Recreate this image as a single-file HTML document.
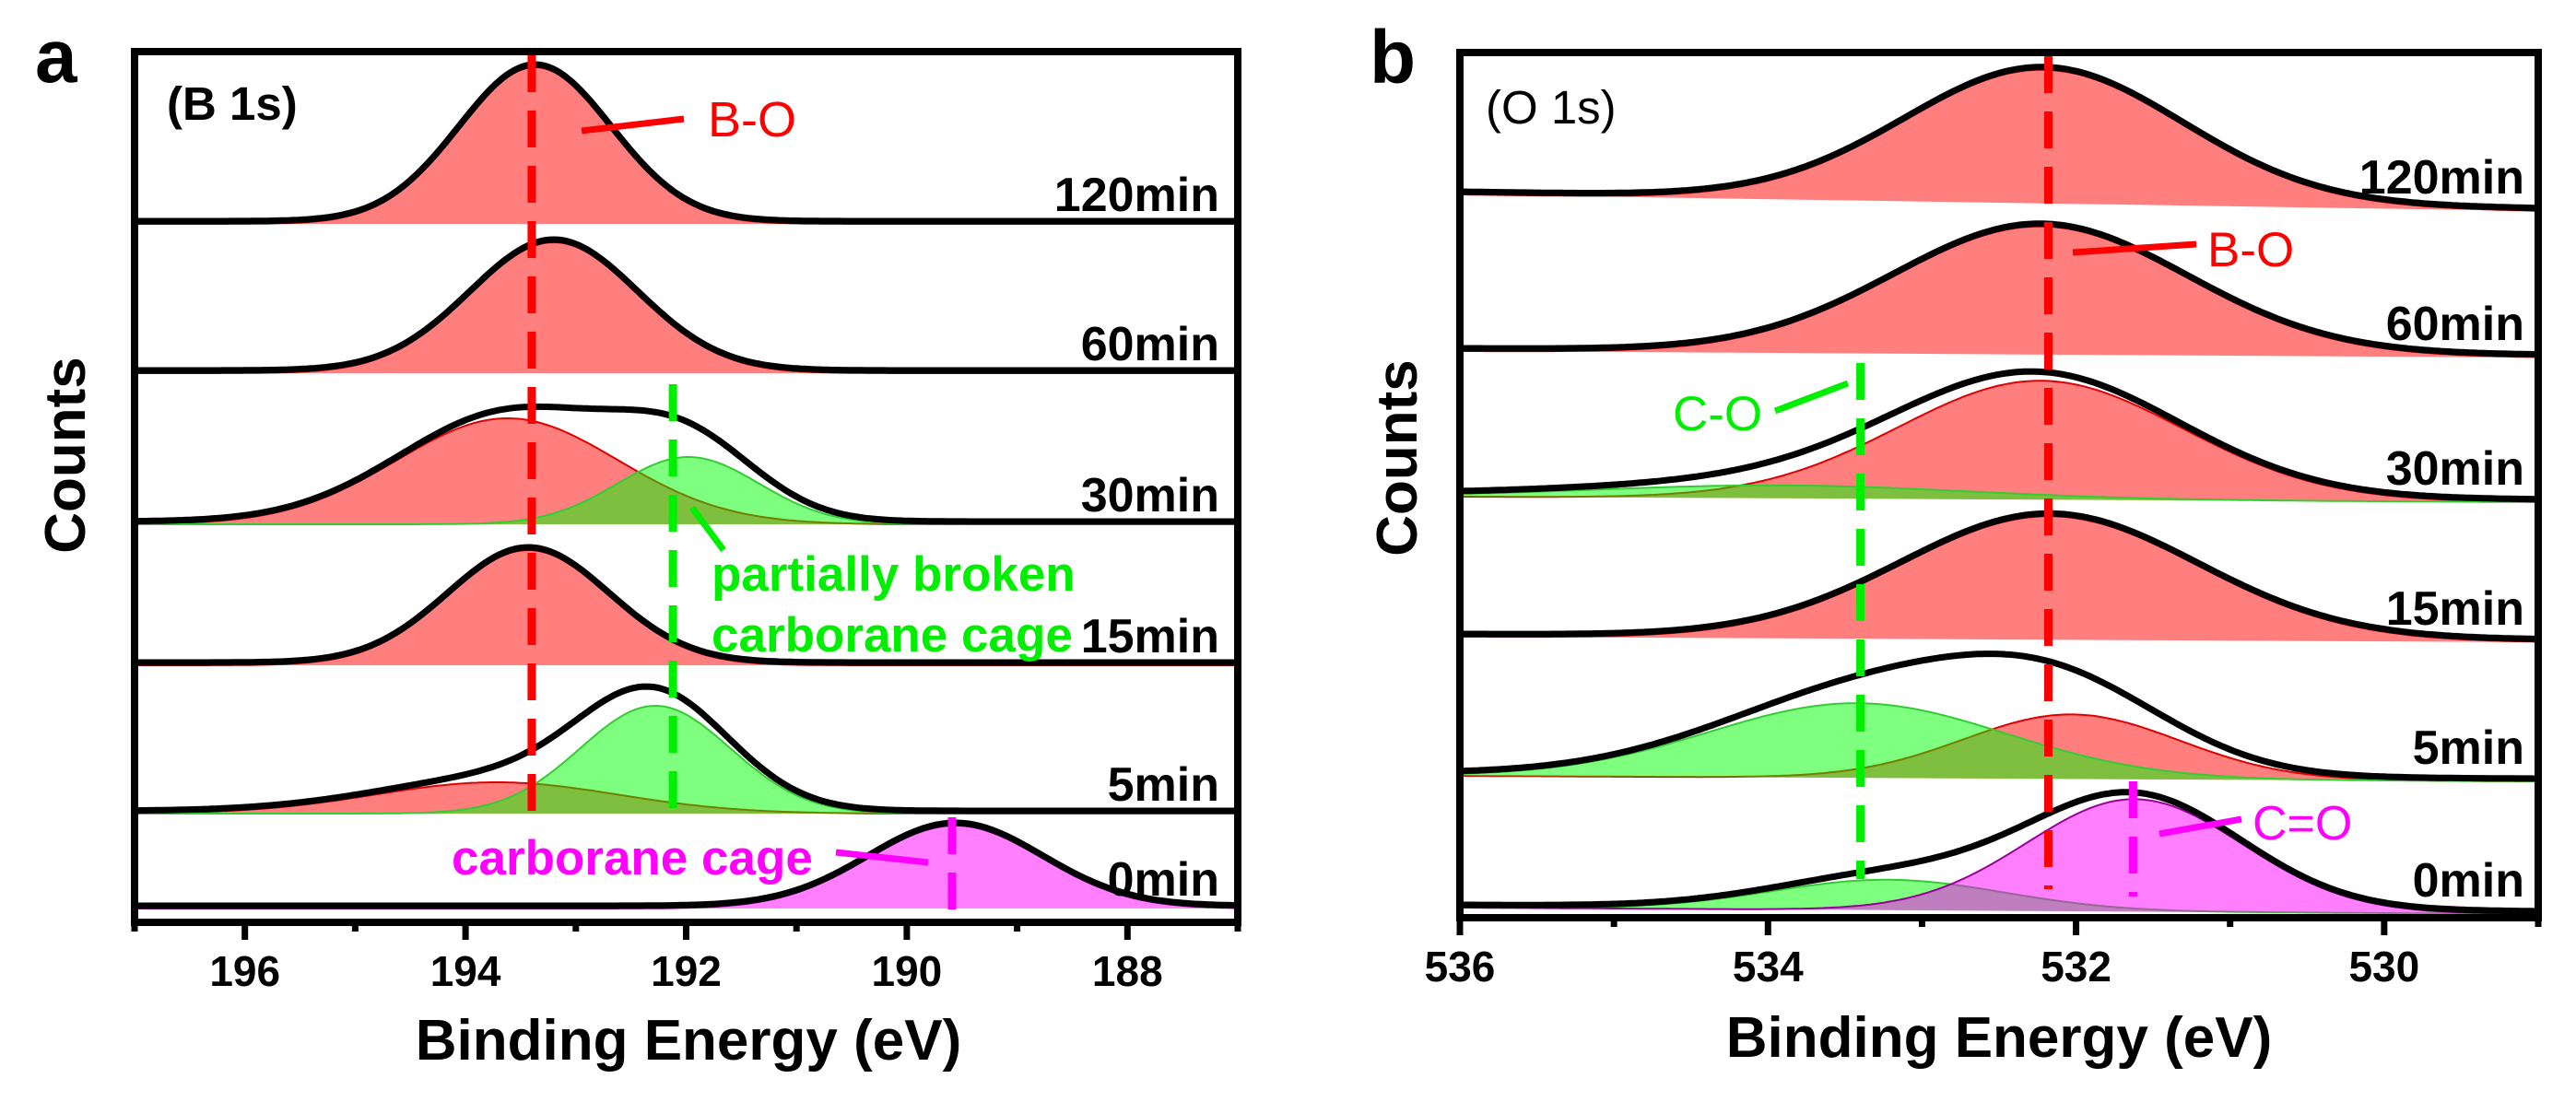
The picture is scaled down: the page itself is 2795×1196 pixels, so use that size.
<!DOCTYPE html>
<html><head><meta charset="utf-8"><style>
html,body{margin:0;padding:0;background:#fff}
svg{display:block;font-family:"Liberation Sans",Arial,sans-serif}
</style></head><body>
<svg id="fig" width="2795" height="1196" viewBox="0 0 2795 1196" xmlns="http://www.w3.org/2000/svg"></svg>
<script>
// ---------- Panel a (B 1s) data ----------
const aTimes = ['0min','5min','15min','30min','60min','120min'];
const aOffsets = [15,118,279,432,596,758];
const aRedH = [0,34,125,115,142,170];
const aRedC = [193.5,193.72,193.43,193.62,193.2,193.37];
const aRedS = [1,1.1,0.73,1.0,0.76,0.69];
const aGreenH = [0,117,0,73,0,0];
const aGreenC = [192.2,192.28,192.2,191.98,192.2,192.2];
const aGreenS = [0.7,0.68,0.7,0.64,0.7,0.7];
const aMagH = [90,0,0,0,0,0];
const aMagC = [189.56,189.56,189.56,189.56,189.56,189.56];
const aMagS = [0.79,0.79,0.79,0.79,0.79,0.79];
const aExtraH = [0,4,0,8,0,0];
const aExtraC = [193,193,193,192.8,193,193];
const aExtraS = [0.8,0.8,0.8,0.8,0.8,0.8];
const aTicks = [196,194,192,190,188];
const aMinor = [197,195,193,191,189,187];
const aDashRed = 193.4, aDashGreen = 192.12, aDashMag = 189.59;

// ---------- Panel b (O 1s) data ----------
const bTimes = ['0min','5min','15min','30min','60min','120min'];
const bOffL = [11,154,305,457,615,785];
const bOffR = [4,148,299,451,608,767];
const bRedH = [0,70,134,129,139,145];
const bRedC = [532.1,532.03,532.17,532.23,532.23,532.21];
const bRedS = [0.9,0.7,0.96,0.92,0.95,0.9];
const bGreenH = [33,81,0,14,0,0];
const bGreenC = [533.22,533.42,533.4,533.9,533.4,533.4];
const bGreenS = [0.75,0.96,1,1.2,1,1];
const bMagH = [122,0,0,0,0,0];
const bMagC = [531.62,531.62,531.62,531.62,531.62,531.62];
const bMagS = [0.7,0.7,0.7,0.7,0.7,0.7];
const bExtraH = [2,26,0,3,0,0];
const bExtraC = [532.6,532.7,532.7,533.2,532.7,532.7];
const bExtraS = [0.8,0.8,0.8,0.8,0.8,0.8];
const bTicks = [536,534,532,530];
const bMinor = [535,533,531,529];
const bDashRed = 532.18, bDashGreen = 533.4, bDashMag = 531.63;

const NS='http://www.w3.org/2000/svg';
const svg=document.getElementById('fig');
function mk(tag,attrs,parent){const e=document.createElementNS(NS,tag);for(const k in attrs)e.setAttribute(k,attrs[k]);(parent||svg).appendChild(e);return e;}
function gauss(x,h,c,s){return h*Math.exp(-((x-c)*(x-c))/(2*s*s));}

function panel(P){
  const g=mk('g',{});
  
  
  const xS=v=>P.x0+(P.e0-v)/(P.e0-P.e1)*(P.x1-P.x0);
  const yS=c=>P.y1-c;
  const N=300;
  for(let i=0;i<P.times.length;i++){
    const base=x=>{const t=(x-P.x0)/(P.x1-P.x0);return P.offL[i]*(1-t)+P.offR[i]*t;};
    const comps=[
      {h:P.redH[i],c:P.redC[i],s:P.redS[i],fill:'rgba(255,0,0,0.5)',stroke:'#e00000',n:'red'},
      {h:P.greenH[i],c:P.greenC[i],s:P.greenS[i],fill:'rgba(0,255,0,0.5)',stroke:'#33cc33',n:'green'},
      {h:P.magH[i],c:P.magC[i],s:P.magS[i],fill:'rgba(255,0,255,0.5)',stroke:'#990099',n:'magenta'}];
    comps.forEach(cp=>{
      if(!cp.h)return;
      let d='',top='';
      for(let k=0;k<=N;k++){const e=P.e0+(P.e1-P.e0)*k/N;const x=xS(e);const y=yS(base(x)+gauss(e,cp.h,cp.c,cp.s));
        top+=(k?'L':'M')+x.toFixed(1)+','+y.toFixed(1);}
      d=top+'L'+P.x1+','+yS(base(P.x1)).toFixed(1)+'L'+P.x0+','+yS(base(P.x0)).toFixed(1)+'Z';
      const f=mk('path',{d:d,fill:cp.fill,stroke:'none'},g);
      
      
      const o=mk('path',{d:top,fill:'none',stroke:cp.stroke,'stroke-width':2},g);
      
      
    });
    let d='';
    for(let k=0;k<=N;k++){const e=P.e0+(P.e1-P.e0)*k/N;const x=xS(e);
      let c=base(x);comps.forEach(cp=>{if(cp.h)c+=gauss(e,cp.h,cp.c,cp.s);});
      c+=gauss(e,P.exH[i],P.exC[i],P.exS[i]);
      d+=(k?'L':'M')+x.toFixed(1)+','+(yS(c)-3).toFixed(1);}
    const l=mk('path',{d:d,fill:'none',stroke:'#000','stroke-width':7,'stroke-linejoin':'round'},g);
    
    
    const t=mk('text',{x:P.labelX,y:yS(P.offR[i])-P.labelDy+18,'text-anchor':'end','font-size':52,'font-weight':'bold',fill:'#000'},g);
    t.textContent=P.times[i];
    
    
  }
  // dashed lines
  P.dashes.forEach(dl=>{
    const ln=mk('line',{x1:xS(dl.e),x2:xS(dl.e),y1:dl.ya,y2:dl.yb,stroke:dl.col,'stroke-width':9,'stroke-dasharray':'40,20'},g);
    
    
  });
  // frame
  const fr=mk('rect',{x:P.x0,y:P.y0,width:P.x1-P.x0,height:P.y1-P.y0,fill:'none',stroke:'#000','stroke-width':8},g);
  
  
  P.ticks.forEach(v=>{
    const tk=mk('line',{x1:xS(v),x2:xS(v),y1:P.y1,y2:P.y1+19,stroke:'#000','stroke-width':7},g);
    
    
    const tl=mk('text',{x:xS(v),y:P.tickY,'text-anchor':'middle','font-size':46,'font-weight':'bold'},g);
    tl.textContent=v;
    
    
  });
  P.minor.forEach(v=>{
    const tk=mk('line',{x1:xS(v),x2:xS(v),y1:P.y1,y2:P.y1+10,stroke:'#000','stroke-width':7},g);
    
    
  });
  return {g,xS};
}

const A=panel({name:'panel-a-b1s',x0:146,x1:1343,y0:56,y1:1001,e0:197,e1:187,times:aTimes,
  offL:aOffsets,offR:aOffsets,redH:aRedH,redC:aRedC,redS:aRedS,greenH:aGreenH,greenC:aGreenC,greenS:aGreenS,
  magH:aMagH,magC:aMagC,magS:aMagS,exH:aExtraH,exC:aExtraC,exS:aExtraS,labelX:1323,labelDy:32,
  ticks:aTicks,minor:aMinor,tickY:1070,
  dashes:[{e:aDashRed,ya:60,yb:885,col:'#ff0000',n:'b-o-position-line'},{e:aDashGreen,ya:417,yb:881,col:'#00ee00',n:'broken-cage-position-line'},{e:aDashMag,ya:887,yb:995,col:'#ff00ff',n:'cage-position-line'}]});
const B=panel({name:'panel-b-o1s',x0:1584,x1:2754,y0:57,y1:996,e0:536,e1:529,times:bTimes,
  offL:bOffL,offR:bOffR,redH:bRedH,redC:bRedC,redS:bRedS,greenH:bGreenH,greenC:bGreenC,greenS:bGreenS,
  magH:bMagH,magC:bMagC,magS:bMagS,exH:bExtraH,exC:bExtraC,exS:bExtraS,labelX:2739,labelDy:37,
  ticks:bTicks,minor:bMinor,tickY:1065,
  dashes:[{e:bDashRed,ya:61,yb:965,col:'#ff0000',n:'b-o-position-line'},{e:bDashGreen,ya:394,yb:954,col:'#00ee00',n:'c-o-position-line'},{e:bDashMag,ya:848,yb:973,col:'#ff00ff',n:'c=o-position-line'}]});
</script>
<svg style="position:absolute;left:0;top:0" width="2795" height="1196" viewBox="0 0 2795 1196" xmlns="http://www.w3.org/2000/svg">
  <g font-family="Liberation Sans, Arial, sans-serif">
    <text x="38" y="89" font-size="82" font-weight="bold">a</text>
    <text x="1486" y="90" font-size="82" font-weight="bold">b</text>
    <text x="181" y="130" font-size="51" font-weight="bold">(B 1s)</text>
    <text x="1612" y="134" font-size="51">(O 1s)</text>
    <text transform="translate(92,494) rotate(-90)" text-anchor="middle" font-size="62" font-weight="bold">Counts</text>
    <text transform="translate(1537,497) rotate(-90)" text-anchor="middle" font-size="62" font-weight="bold">Counts</text>
    <text x="747" y="1150" text-anchor="middle" font-size="62" font-weight="bold">Binding Energy (eV)</text>
    <text x="2169" y="1147" text-anchor="middle" font-size="62" font-weight="bold">Binding Energy (eV)</text>
    <!-- panel a annotations -->
    <line x1="631" y1="142" x2="742" y2="129" stroke="#ff0000" stroke-width="7"/>
    <text x="768" y="148" font-size="54" fill="#ff0000">B-O</text>
    <line x1="751" y1="551" x2="785" y2="597" stroke="#00ee00" stroke-width="7"/>
    <text x="772" y="641" font-size="53" font-weight="bold" fill="#00ee00">partially broken</text>
    <text x="772" y="707" font-size="53" font-weight="bold" fill="#00ee00">carborane cage</text>
    <line x1="907" y1="925" x2="1007" y2="936" stroke="#ff00ff" stroke-width="7"/>
    <text x="490" y="949" font-size="53" font-weight="bold" fill="#ff00ff">carborane cage</text>
    <!-- panel b annotations -->
    <line x1="2249" y1="274" x2="2383" y2="265" stroke="#ff0000" stroke-width="7"/>
    <text x="2395" y="289" font-size="53" fill="#ff0000">B-O</text>
    <line x1="1926" y1="446" x2="2005" y2="416" stroke="#00ee00" stroke-width="7"/>
    <text x="1815" y="467" font-size="53" fill="#00ee00">C-O</text>
    <line x1="2343" y1="905" x2="2432" y2="889" stroke="#ff00ff" stroke-width="7"/>
    <text x="2444" y="911" font-size="52" fill="#ff00ff">C=O</text>
  </g>
</svg>
</body></html>
